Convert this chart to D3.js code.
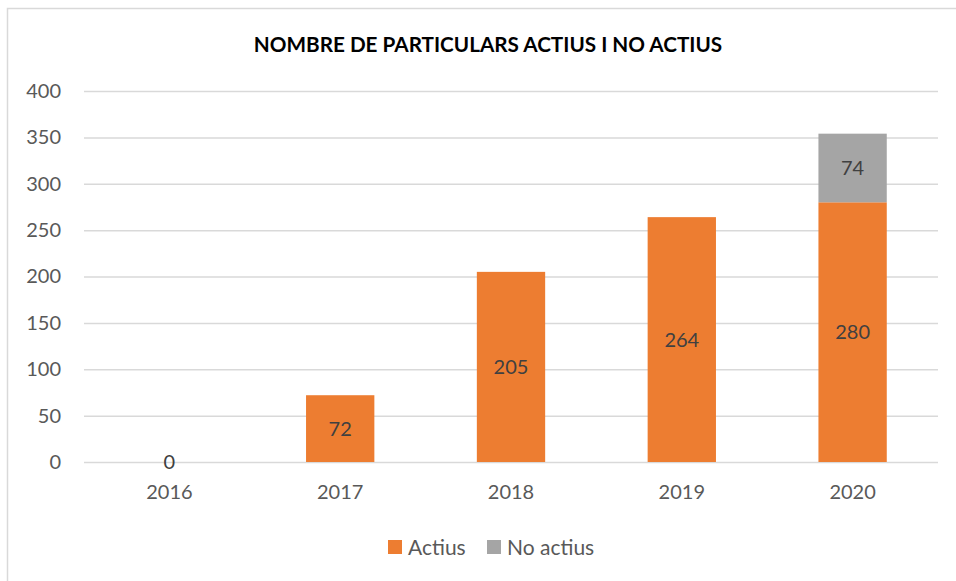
<!DOCTYPE html>
<html><head><meta charset="utf-8">
<script src="https://cdn.jsdelivr.net/npm/d3@7"></script>
<style>
body{margin:0;background:#fff;}
svg{display:block;font-family:Lato,"Open Sans",sans-serif;}
</style></head><body>
<svg id="chart" width="956" height="581"></svg>
<script>
const years = ["2016","2017","2018","2019","2020"];
const actius = [0,72,205,264,280];
const noActius = [null,null,null,null,74];
const yTicks = [0,50,100,150,200,250,300,350,400];
const seriesNames = ["Actius","No actius"];
const colors = ["#ED7D31","#A5A5A5"];

const svg = d3.select("#chart");
svg.append("rect").attr("x",7.5).attr("y",8.5).attr("width",960).attr("height",600)
  .attr("fill","#fff").attr("stroke","#d9d9d9").attr("stroke-width",1.5);

const x = d3.scaleBand().domain(years).range([84,938]).paddingInner(0.6).paddingOuter(0.3);
const y = d3.scaleLinear().domain([0,400]).range([462,91]);

svg.append("text").attr("x",488).attr("y",52).attr("text-anchor","middle")
  .attr("font-weight","bold").attr("font-size",20.7).attr("fill","#000")
  .text("NOMBRE DE PARTICULARS ACTIUS I NO ACTIUS");

// grid
const yAxis = d3.axisLeft(y).tickValues(yTicks).tickSize(-(938-84)).tickPadding(23);
const gy = svg.append("g").attr("transform","translate(84,0)").call(yAxis);
gy.select(".domain").remove();
gy.selectAll(".tick line").attr("stroke","#d9d9d9").attr("stroke-width",1.5);
gy.selectAll(".tick text").attr("fill","#595959").attr("font-size",20).attr("font-family","Lato");

const xAxis = d3.axisBottom(x).tickSize(0).tickPadding(23);
const gx = svg.append("g").attr("transform","translate(0,462)").call(xAxis);
gx.select(".domain").remove();
gx.selectAll(".tick text").attr("fill","#595959").attr("font-size",20).attr("font-family","Lato");

const data = years.map((yr,i)=>({year:yr, Actius:actius[i], "No actius":noActius[i]||0}));
const stack = d3.stack().keys(seriesNames)(data);
const layers = svg.selectAll("g.layer").data(stack).join("g").attr("class","layer")
  .attr("fill",(d,i)=>colors[i]);
layers.selectAll("rect").data(d=>d).join("rect")
  .attr("x",d=>x(d.data.year)).attr("width",x.bandwidth())
  .attr("y",d=>y(d[1])).attr("height",d=>y(d[0])-y(d[1]));

// labels
const labels = [];
years.forEach((yr,i)=>{
  labels.push({year:yr, v:actius[i], y0:0, y1:actius[i]});
  if(noActius[i]!=null) labels.push({year:yr, v:noActius[i], y0:actius[i], y1:actius[i]+noActius[i]});
});
svg.selectAll("text.lbl").data(labels).join("text").attr("class","lbl")
  .attr("x",d=>x(d.year)+x.bandwidth()/2).attr("y",d=>(y(d.y0)+y(d.y1))/2)
  .attr("dy","0.36em").attr("text-anchor","middle").attr("font-size",20)
  .attr("fill","#404040").text(d=>d.v);

// legend
const leg = [{name:"Actius",x:388},{name:"No actius",x:487}];
const lg = svg.selectAll("g.leg").data(seriesNames).join("g").attr("class","leg")
  .attr("transform",(d,i)=>`translate(${leg[i].x},540)`);
lg.append("rect").attr("width",14).attr("height",14).attr("fill",(d,i)=>colors[i]);
lg.append("text").attr("x",20).attr("y",7).attr("dy","0.36em").attr("font-size",21)
  .attr("fill","#595959").text(d=>d);
</script></body></html>
